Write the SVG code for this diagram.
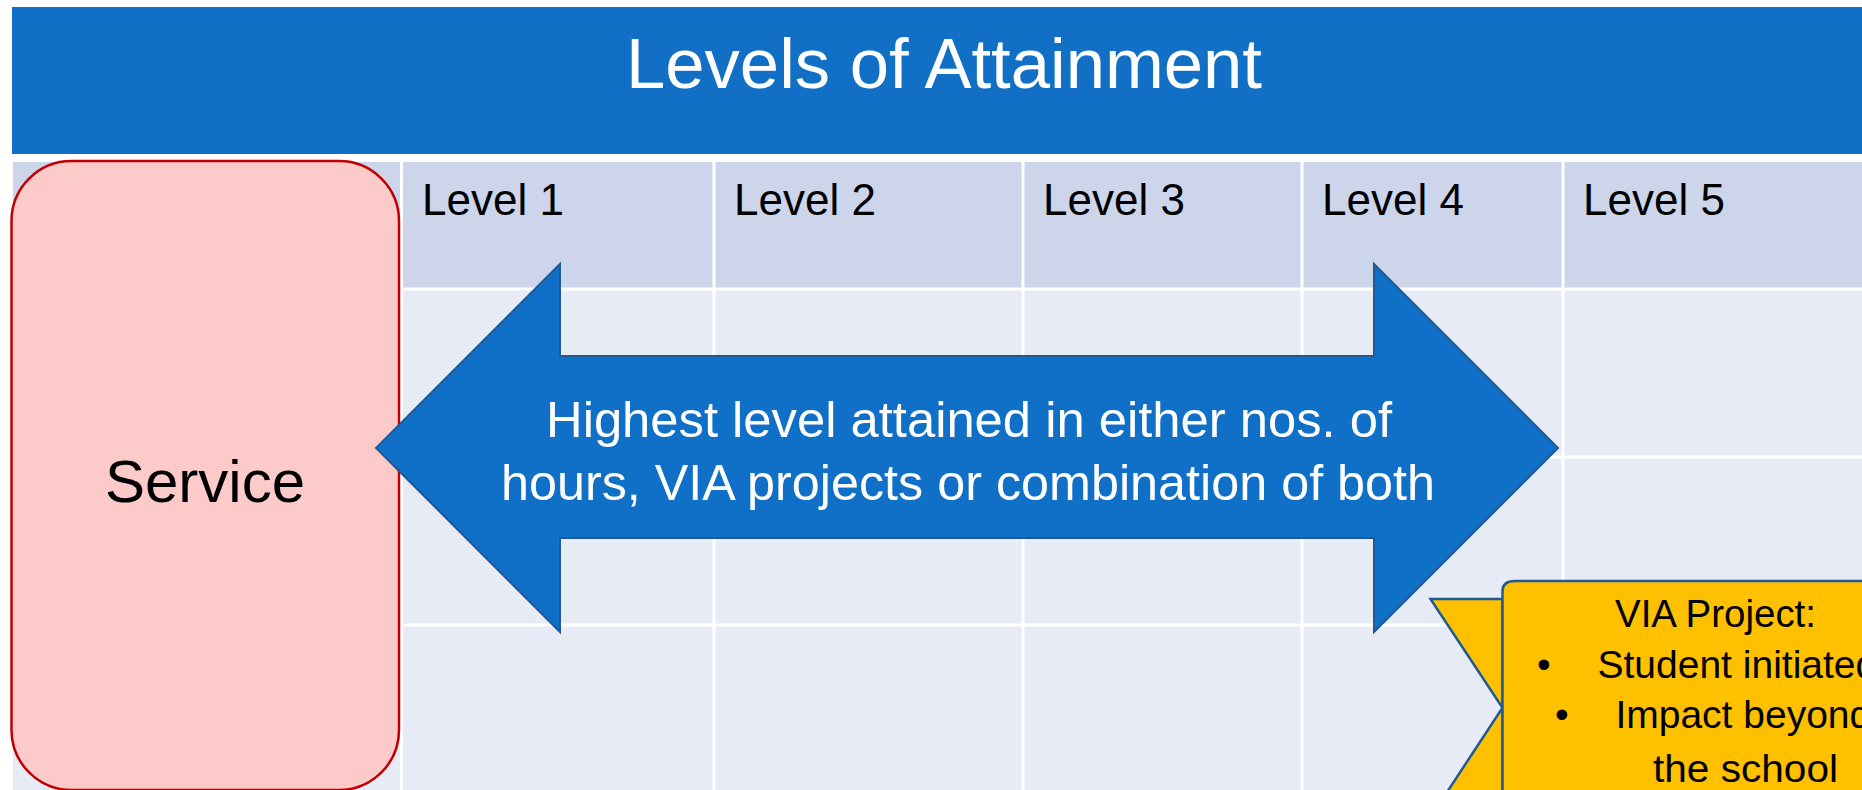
<svg xmlns="http://www.w3.org/2000/svg" width="1862" height="790" viewBox="0 0 1862 790">
  <style>
    .sans { font-family: "Liberation Sans", Arial, sans-serif; }
    .grid { stroke: #FFFFFF; stroke-width: 3; fill: none; }
    .lvl { font-size: 44px; fill: #000000; }
    .wt { fill: #FFFFFF; }
    .via { font-size: 39px; fill: #000000; }
  </style>
  <rect x="0" y="0" width="1862" height="790" fill="#FFFFFF"/>

  <g id="banner">
    <rect x="12" y="7" width="1850" height="147" fill="#1170C6"/>
    <text class="sans wt" x="944" y="88" font-size="71" text-anchor="middle" textLength="636" lengthAdjust="spacingAndGlyphs">Levels of Attainment</text>
  </g>

  <g id="table">
    <rect x="13" y="162" width="1849" height="127" fill="#CDD5EA"/>
    <rect x="13" y="289" width="1849" height="501" fill="#E7EBF5"/>
    <line class="grid" x1="13" y1="289" x2="1862" y2="289"/>
    <line class="grid" x1="13" y1="457" x2="1862" y2="457"/>
    <line class="grid" x1="13" y1="625" x2="1862" y2="625"/>
    <line class="grid" x1="401.5" y1="162" x2="401.5" y2="790"/>
    <line class="grid" x1="714" y1="162" x2="714" y2="790"/>
    <line class="grid" x1="1023" y1="162" x2="1023" y2="790"/>
    <line class="grid" x1="1302" y1="162" x2="1302" y2="790"/>
    <line class="grid" x1="1563" y1="162" x2="1563" y2="790"/>
    <text class="sans lvl" x="422" y="215">Level 1</text>
    <text class="sans lvl" x="734" y="215">Level 2</text>
    <text class="sans lvl" x="1043" y="215">Level 3</text>
    <text class="sans lvl" x="1322" y="215">Level 4</text>
    <text class="sans lvl" x="1583" y="215">Level 5</text>
  </g>

  <g id="service">
    <rect x="11.5" y="161" width="387.5" height="629" rx="60" ry="60" fill="#FDCACA" stroke="#C00000" stroke-width="2.5"/>
    <text class="sans" x="205" y="502" font-size="60" text-anchor="middle" fill="#000000">Service</text>
  </g>

  <g id="connectors"></g>

  <g id="double-arrow">
    <polygon points="376,448 560,264 560,356 1374,356 1374,264 1558,448 1374,632 1374,538 560,538 560,632" fill="#106FC6" stroke="#1F5A96" stroke-width="2" stroke-linejoin="miter"/>
    <text class="sans wt" x="969" y="437" font-size="50" text-anchor="middle" textLength="846" lengthAdjust="spacingAndGlyphs">Highest level attained in either nos. of</text>
    <text class="sans wt" x="968" y="500" font-size="50" text-anchor="middle" textLength="934" lengthAdjust="spacingAndGlyphs">hours, VIA projects or combination of both</text>
  </g>

  <g id="via-callout">
    <polygon points="1430.5,599 1502.5,599 1502.5,812 1434,812 1502.5,707.7" fill="#FFC000" stroke="#1F5A96" stroke-width="2.5" stroke-linejoin="miter"/>
    <path d="M1502.5,812 L1502.5,591 Q1502.5,581 1515,581 L1880,581 L1880,812 Z" fill="#FFC000" stroke="#1F5A96" stroke-width="2.5"/>
    <text class="sans via" x="1615" y="627" textLength="201" lengthAdjust="spacingAndGlyphs">VIA Project:</text>
    <text class="sans via" x="1537" y="678">•</text>
    <text class="sans via" x="1597.5" y="678">Student initiated</text>
    <text class="sans via" x="1555" y="728">•</text>
    <text class="sans via" x="1615.4" y="728">Impact beyond</text>
    <text class="sans via" x="1653" y="782" textLength="185" lengthAdjust="spacingAndGlyphs">the school</text>
  </g>
</svg>
